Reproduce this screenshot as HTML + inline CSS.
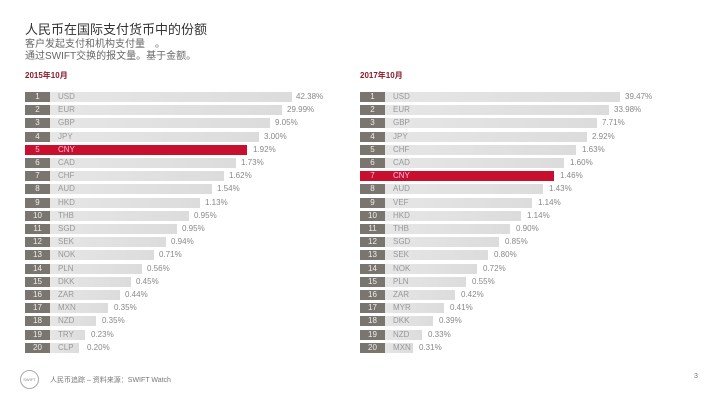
<!DOCTYPE html><html><head><meta charset="utf-8"><style>
body{margin:0;width:720px;height:405px;background:#fff;position:relative;overflow:hidden;font-family:"Liberation Sans","Noto Sans CJK SC",sans-serif}
div{position:absolute}
.t{left:25px;top:19px;font-size:13px;color:#333;white-space:nowrap}
.s{left:25px;font-size:10px;color:#666;white-space:nowrap}
.h{font-size:8px;font-weight:bold;color:#8a1a2a;top:70px}
.r{height:10px;font-size:8px;line-height:10px;color:#999;white-space:nowrap}
.n{width:25px;height:10px;background:#7b756f;color:#eee;text-align:center}
.b{height:10px;background:linear-gradient(90deg,#e6e6e6,#dcdcdc);color:#999;padding-left:8px;box-sizing:border-box}
.red .b{background:#c8102e;color:#fbd}
.red .n{background:#c8102e;color:#fbd}
.v{color:#888}
</style></head><body>
<div class="t">人民币在国际支付货币中的份额</div>
<div class="s" style="top:35px">客户发起支付和机构支付量　。</div>
<div class="s" style="top:47px">通过SWIFT交换的报文量。基于金额。</div>
<div class="h" style="left:25px">2015年10月</div>
<div class="h" style="left:360px">2017年10月</div>
<div id="L"></div>
<div style="left:20px;top:370px;width:17px;height:17px;border-radius:50%;border:1px solid #aaa;font-size:4px;color:#888;text-align:center;line-height:17px">SWIFT</div>
<div style="left:50px;top:375px;font-size:7px;color:#777;white-space:nowrap">人民币追踪 – 资料来源：SWIFT Watch</div>
<div style="left:694px;top:373px;font-size:7px;color:#777">3</div>

<div class="r" style="top:92px;left:25px"><div class="n">1</div><div class="b" style="left:25px;width:242px">USD</div><div class="v" style="left:271px">42.38%</div></div>
<div class="r" style="top:105px;left:25px"><div class="n">2</div><div class="b" style="left:25px;width:232px">EUR</div><div class="v" style="left:262px">29.99%</div></div>
<div class="r" style="top:118px;left:25px"><div class="n">3</div><div class="b" style="left:25px;width:220px">GBP</div><div class="v" style="left:250px">9.05%</div></div>
<div class="r" style="top:132px;left:25px"><div class="n">4</div><div class="b" style="left:25px;width:209px">JPY</div><div class="v" style="left:239px">3.00%</div></div>
<div class="r red" style="top:145px;left:25px"><div class="n">5</div><div class="b" style="left:25px;width:197px">CNY</div><div class="v" style="left:228px">1.92%</div></div>
<div class="r" style="top:158px;left:25px"><div class="n">6</div><div class="b" style="left:25px;width:186px">CAD</div><div class="v" style="left:216px">1.73%</div></div>
<div class="r" style="top:171px;left:25px"><div class="n">7</div><div class="b" style="left:25px;width:174px">CHF</div><div class="v" style="left:204px">1.62%</div></div>
<div class="r" style="top:184px;left:25px"><div class="n">8</div><div class="b" style="left:25px;width:162px">AUD</div><div class="v" style="left:192px">1.54%</div></div>
<div class="r" style="top:198px;left:25px"><div class="n">9</div><div class="b" style="left:25px;width:150px">HKD</div><div class="v" style="left:180px">1.13%</div></div>
<div class="r" style="top:211px;left:25px"><div class="n">10</div><div class="b" style="left:25px;width:139px">THB</div><div class="v" style="left:169px">0.95%</div></div>
<div class="r" style="top:224px;left:25px"><div class="n">11</div><div class="b" style="left:25px;width:127px">SGD</div><div class="v" style="left:157px">0.95%</div></div>
<div class="r" style="top:237px;left:25px"><div class="n">12</div><div class="b" style="left:25px;width:116px">SEK</div><div class="v" style="left:146px">0.94%</div></div>
<div class="r" style="top:250px;left:25px"><div class="n">13</div><div class="b" style="left:25px;width:104px">NOK</div><div class="v" style="left:134px">0.71%</div></div>
<div class="r" style="top:264px;left:25px"><div class="n">14</div><div class="b" style="left:25px;width:92px">PLN</div><div class="v" style="left:122px">0.56%</div></div>
<div class="r" style="top:277px;left:25px"><div class="n">15</div><div class="b" style="left:25px;width:81px">DKK</div><div class="v" style="left:111px">0.45%</div></div>
<div class="r" style="top:290px;left:25px"><div class="n">16</div><div class="b" style="left:25px;width:70px">ZAR</div><div class="v" style="left:100px">0.44%</div></div>
<div class="r" style="top:303px;left:25px"><div class="n">17</div><div class="b" style="left:25px;width:58px">MXN</div><div class="v" style="left:89px">0.35%</div></div>
<div class="r" style="top:316px;left:25px"><div class="n">18</div><div class="b" style="left:25px;width:46px">NZD</div><div class="v" style="left:77px">0.35%</div></div>
<div class="r" style="top:330px;left:25px"><div class="n">19</div><div class="b" style="left:25px;width:35px">TRY</div><div class="v" style="left:66px">0.23%</div></div>
<div class="r" style="top:343px;left:25px"><div class="n">20</div><div class="b" style="left:25px;width:29px">CLP</div><div class="v" style="left:62px">0.20%</div></div>

<div class="r" style="top:92px;left:360px"><div class="n">1</div><div class="b" style="left:25px;width:235px">USD</div><div class="v" style="left:265px">39.47%</div></div>
<div class="r" style="top:105px;left:360px"><div class="n">2</div><div class="b" style="left:25px;width:224px">EUR</div><div class="v" style="left:254px">33.98%</div></div>
<div class="r" style="top:118px;left:360px"><div class="n">3</div><div class="b" style="left:25px;width:212px">GBP</div><div class="v" style="left:242px">7.71%</div></div>
<div class="r" style="top:132px;left:360px"><div class="n">4</div><div class="b" style="left:25px;width:202px">JPY</div><div class="v" style="left:232px">2.92%</div></div>
<div class="r" style="top:145px;left:360px"><div class="n">5</div><div class="b" style="left:25px;width:191px">CHF</div><div class="v" style="left:222px">1.63%</div></div>
<div class="r" style="top:158px;left:360px"><div class="n">6</div><div class="b" style="left:25px;width:179px">CAD</div><div class="v" style="left:210px">1.60%</div></div>
<div class="r red" style="top:171px;left:360px"><div class="n">7</div><div class="b" style="left:25px;width:169px">CNY</div><div class="v" style="left:200px">1.46%</div></div>
<div class="r" style="top:184px;left:360px"><div class="n">8</div><div class="b" style="left:25px;width:158px">AUD</div><div class="v" style="left:189px">1.43%</div></div>
<div class="r" style="top:198px;left:360px"><div class="n">9</div><div class="b" style="left:25px;width:147px">VEF</div><div class="v" style="left:178px">1.14%</div></div>
<div class="r" style="top:211px;left:360px"><div class="n">10</div><div class="b" style="left:25px;width:136px">HKD</div><div class="v" style="left:167px">1.14%</div></div>
<div class="r" style="top:224px;left:360px"><div class="n">11</div><div class="b" style="left:25px;width:125px">THB</div><div class="v" style="left:156px">0.90%</div></div>
<div class="r" style="top:237px;left:360px"><div class="n">12</div><div class="b" style="left:25px;width:114px">SGD</div><div class="v" style="left:145px">0.85%</div></div>
<div class="r" style="top:250px;left:360px"><div class="n">13</div><div class="b" style="left:25px;width:103px">SEK</div><div class="v" style="left:134px">0.80%</div></div>
<div class="r" style="top:264px;left:360px"><div class="n">14</div><div class="b" style="left:25px;width:92px">NOK</div><div class="v" style="left:123px">0.72%</div></div>
<div class="r" style="top:277px;left:360px"><div class="n">15</div><div class="b" style="left:25px;width:81px">PLN</div><div class="v" style="left:112px">0.55%</div></div>
<div class="r" style="top:290px;left:360px"><div class="n">16</div><div class="b" style="left:25px;width:70px">ZAR</div><div class="v" style="left:101px">0.42%</div></div>
<div class="r" style="top:303px;left:360px"><div class="n">17</div><div class="b" style="left:25px;width:59px">MYR</div><div class="v" style="left:90px">0.41%</div></div>
<div class="r" style="top:316px;left:360px"><div class="n">18</div><div class="b" style="left:25px;width:48px">DKK</div><div class="v" style="left:79px">0.39%</div></div>
<div class="r" style="top:330px;left:360px"><div class="n">19</div><div class="b" style="left:25px;width:37px">NZD</div><div class="v" style="left:68px">0.33%</div></div>
<div class="r" style="top:343px;left:360px"><div class="n">20</div><div class="b" style="left:25px;width:28px">MXN</div><div class="v" style="left:59px">0.31%</div></div>
</body></html>
